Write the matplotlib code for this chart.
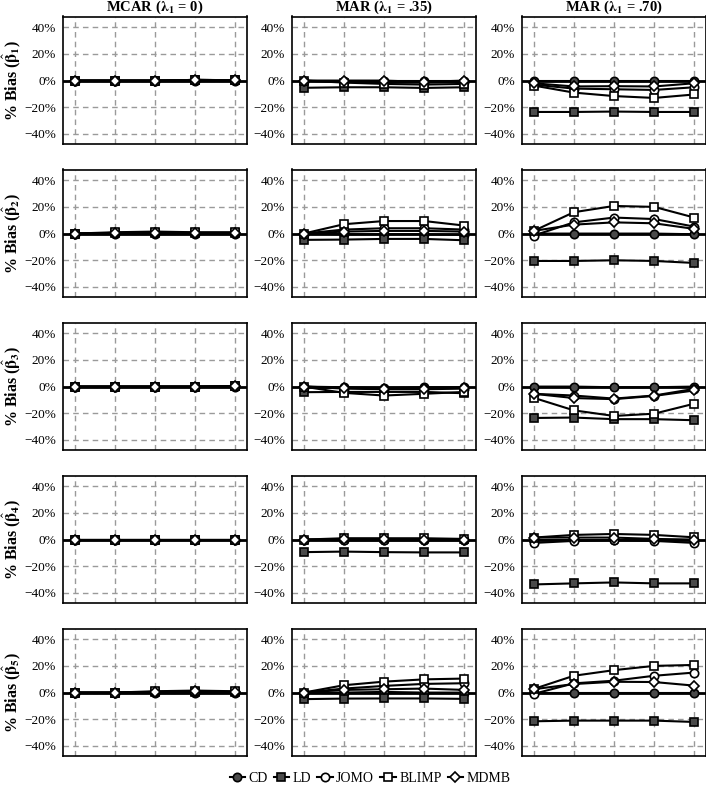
import numpy as np
import matplotlib
matplotlib.use("Agg")
import matplotlib.pyplot as plt
from matplotlib.lines import Line2D
from matplotlib.ticker import FuncFormatter

plt.rcParams['font.family'] = ['Liberation Serif', 'DejaVu Serif']
plt.rcParams['mathtext.fontset'] = 'stix'

# conditions (columns) and coefficients (rows)
col_titles = [r'MCAR ($\boldsymbol{\lambda}_\mathbf{1}$ = 0)',
              r'MAR ($\boldsymbol{\lambda}_\mathbf{1}$ = .35)',
              r'MAR ($\boldsymbol{\lambda}_\mathbf{1}$ = .70)']
row_labels = [r'%% Bias ($\hat{\mathbf{\beta}}_\mathbf{%d}$)' % i for i in range(1, 6)]
x = [1, 2, 3, 4, 5]

methods = ['CD', 'LD', 'JOMO', 'BLIMP', 'MDMB']

# % bias values, [row][col] -> list of 5 points per method
cd = [
    [[0, 0, 0, 0, 0], [0, 0, 0, 0, 0], [0, 0, 0, 0, 0]],
    [[0, 0, 0, 0, 0], [0, -0.5, -0.5, -0.5, -1], [0, 0, 0, 0, -0.5]],
    [[0, 0, 0, 0, 0], [0, -0.5, -1, -0.5, -0.5], [0, 0, -0.5, -0.5, 0]],
    [[0, 0, 0, 0, 0], [0, 0, 0, 0, 0], [0, 0, 0, 0, 0]],
    [[0, 0, 0, 0, 0], [0, 0, 0.5, 0, 0], [0, 0, 0, 0, 0]],
]
ld = [
    [[0, 0, 0, 0.5, 0.3], [-5.4, -5, -5, -5.5, -5], [-23.5, -23.5, -23.2, -23.5, -23.5]],
    [[0, 0.5, 0.5, 0.5, 0.5], [-4.7, -4.5, -4, -4, -5], [-20.5, -20.5, -20, -20.5, -22]],
    [[0, 0, 0, 0, 0.3], [-4.2, -4, -4, -4, -5], [-23.5, -23.2, -24.4, -24.4, -25.2]],
    [[0, 0, 0, 0, 0], [-9.4, -9, -9.4, -9.6, -9.6], [-33.6, -32.8, -32.1, -32.8, -32.8]],
    [[0, 0, 0.5, 0.5, 0.5], [-4.9, -4.5, -4.4, -4.4, -4.7], [-21.5, -21, -21, -21, -22]],
]
jomo = [
    [[0, 0, 0, 0.5, 0.3], [0, -1, -1.5, -1.5, -1], [-3, -6, -6.5, -7, -5]],
    [[0, 0.5, 1, 0.5, 0.5], [0, 3, 4, 4, 3], [-1.5, 8.4, 12, 10.9, 5.2]],
    [[0, 0, 0, 0, 0.3], [0, -1.5, -2, -2, -1.5], [-5.4, -6.7, -9, -6.7, -1.7]],
    [[0, 0, 0, 0, 0], [0, -0.5, -0.5, -0.5, -0.5], [-2.5, -1, -0.5, -1, -2.5]],
    [[0, 0, 0.5, 1, 0.5], [0, 3, 5, 6.5, 7], [-1, 6.9, 8.9, 12.6, 15]],
]
blimp = [
    [[0, 0, 0, 0.5, 0.3], [0, -1.5, -2.5, -3, -2.5], [-3.7, -9, -11.6, -13, -10.4]],
    [[0, 1, 1.5, 1, 1], [0, 7, 9.4, 9.4, 6], [2, 16, 20.7, 20, 12]],
    [[0, 0, 0, 0, 0.3], [0, -4.7, -6.7, -5.4, -4], [-8.4, -17.8, -22, -20.3, -12.8]],
    [[0, 0, 0, 0, 0], [0, 1, 1, 1, 0.5], [1.5, 3.5, 4.2, 3.5, 1.7]],
    [[0, 0, 1, 1.5, 1], [0, 5.5, 8.2, 9.9, 10.5], [2.7, 12.6, 16.8, 20, 20.7]],
]
mdmb = [
    [[0, 0, 0, 0.5, 0.3], [0, 0, 0, -1, 0], [-2, -4.4, -4.2, -4.4, -2]],
    [[0, 0.5, 0.5, 0.5, 0.5], [0, 1.5, 2, 2, 1.5], [2, 6.7, 8.4, 7.7, 3.5]],
    [[0, 0, 0, 0, 0.3], [0, -1, -1.5, -1.5, -1], [-5.4, -8.6, -9.4, -7, -2.9]],
    [[0, 0, 0, 0, 0], [0, 0.5, 0.5, 0, 0], [1.5, 1.5, 1.5, 0.5, 0]],
    [[0, 0, 0.5, 1, 0.5], [0, 2, 2.5, 3, 2], [2.5, 6.4, 8.1, 7.9, 5.2]],
]
series = [cd, ld, jomo, blimp, mdmb]

dark = '#4a4a4a'
styles = [
    dict(marker='o', mfc=dark),
    dict(marker='s', mfc=dark),
    dict(marker='o', mfc='white'),
    dict(marker='s', mfc='white'),
    dict(marker='D', mfc='white', markersize=5.5),
]

W, H = 706, 790
fig = plt.figure(figsize=(W / 100, H / 100), dpi=100)

col_left = [63, 292, 522]
ax_w, ax_h = 184, 127.5
row_top = [16.5 + 153 * i for i in range(5)]

pct = FuncFormatter(lambda v, p: ('%d%%' % round(v * 100)).replace('-', '\u2212'))

for r in range(5):
    for c in range(3):
        ax = fig.add_axes([col_left[c] / W, 1 - (row_top[r] + ax_h) / H, ax_w / W, ax_h / H])
        ax.set_xlim(0.71, 5.29)
        ax.set_ylim(-0.475, 0.48)
        ax.set_yticks([-0.4, -0.2, 0, 0.2, 0.4])
        ax.yaxis.set_major_formatter(pct)
        ax.set_xticks(x)
        ax.set_xticklabels([])
        ax.tick_params(axis='x', length=0)
        ax.tick_params(axis='y', length=0, pad=5, labelsize=9.5)
        ax.grid(True, color='#9a9a9a', linestyle=(0, (4, 3)), linewidth=1)
        ax.set_axisbelow(True)
        for s in ax.spines.values():
            s.set_linewidth(1.2)
        ax.axhline(0, color='black', lw=2, zorder=2)
        for k in range(5):
            st = dict(styles[k])
            ms = st.pop('markersize', 6)
            ax.plot(x, np.array(series[k][r][c]) / 100, color='black', lw=1.5,
                    mec='black', mew=1.2, markersize=ms, zorder=3 + k, clip_on=False, **st)
        if r == 0:
            ax.set_title(col_titles[c], fontsize=10.5, fontweight='bold', pad=1)
        if c == 0:
            ax.set_ylabel(row_labels[r], fontsize=11.5, fontweight='bold', labelpad=1)

handles = []
for k in range(5):
    st = dict(styles[k])
    ms = st.pop('markersize', 6)
    handles.append(Line2D([], [], color='black', lw=1.5, mec='black', mew=1.2, markersize=ms, **st))
fig.legend(handles, methods, loc='center', bbox_to_anchor=(370 / W, 1 - 778 / H), ncol=5,
           frameon=False, fontsize=10, handlelength=1.1, handletextpad=0.25, columnspacing=0.45)

fig.savefig('out.png', dpi=100)
